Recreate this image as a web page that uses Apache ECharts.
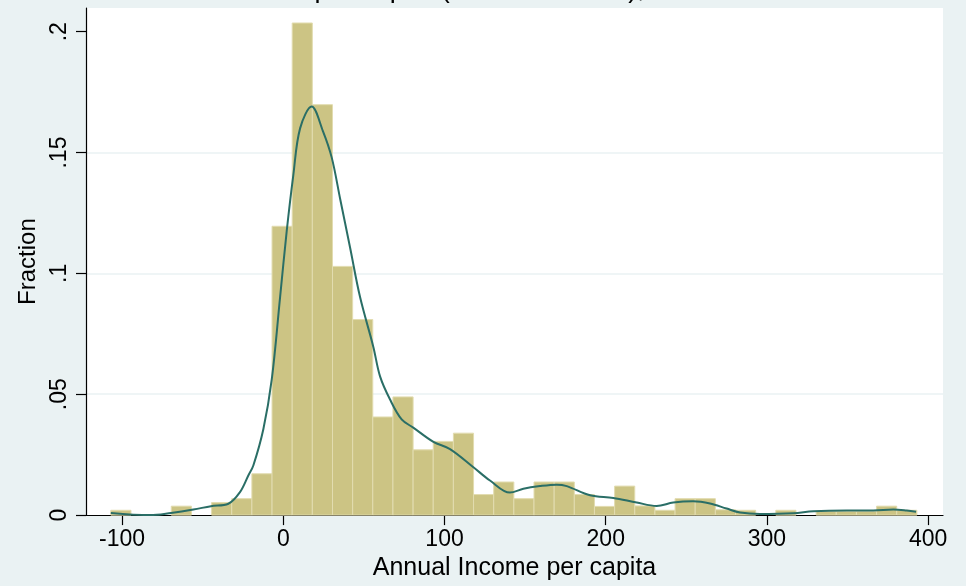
<!DOCTYPE html>
<html>
<head>
<meta charset="utf-8">
<script src="https://cdn.jsdelivr.net/npm/echarts@6/dist/echarts.min.js"></script>
<style>
  html, body { margin: 0; padding: 0; background: #EAF2F3; }
  #chart { width: 966px; height: 586px; }
</style>
</head>
<body>
<div id="chart"></div>
<script>
// Histogram bins: 40 equal-width bins of annual income per capita
const binStart = -107;
const binWidth = 12.5;
const fractions = [
  0.0020, 0.0000, 0.0000, 0.0037, 0.0000, 0.0052, 0.0068, 0.0171, 0.1195, 0.2036,
  0.1698, 0.1029, 0.0809, 0.0406, 0.0489, 0.0270, 0.0305, 0.0339, 0.0085, 0.0137,
  0.0068, 0.0137, 0.0137, 0.0085, 0.0036, 0.0120, 0.0038, 0.0020, 0.0068, 0.0068,
  0.0022, 0.0020, 0.0000, 0.0020, 0.0000, 0.0015, 0.0015, 0.0016, 0.0037, 0.0020
];

// Kernel density overlay
const kdeIncome = [
  -107, -82.7, -69.7, -55.8, -44.9, -34.1, -26.9, -21.7, -18.6, -12.4,
  -7.2, -2.0, 2.1, 6.2, 10.4, 17.6, 24.5, 30.0, 35.2, 41.4,
  47.6, 55.8, 60.0, 66.2, 73.4, 80.6, 93.1, 103.4, 117.9, 128.2,
  140.6, 148.9, 159.2, 169.6, 175.8, 190.3, 204.7, 219.2, 231.6, 241.9,
  254.3, 264.7, 275.0, 283.3, 295.7, 316.4, 328.8, 349.5, 366.0, 378.4,
  386.7, 392.5
];
const kdeDensity = [
  0.0009, 0.0000, 0.0009, 0.0023, 0.0037, 0.0047, 0.0095, 0.0164, 0.0205, 0.0355,
  0.0560, 0.0902, 0.1175, 0.1407, 0.1600, 0.1690, 0.1590, 0.1480, 0.1310, 0.1107,
  0.0902, 0.0697, 0.0574, 0.0478, 0.0396, 0.0362, 0.0303, 0.0273, 0.0198, 0.0143,
  0.0093, 0.0109, 0.0120, 0.0126, 0.0120, 0.0082, 0.0071, 0.0052, 0.0038, 0.0052,
  0.0057, 0.0048, 0.0027, 0.0011, 0.0005, 0.0008, 0.0016, 0.0019, 0.0019, 0.0023,
  0.0019, 0.0014
];

// Axis ticks
const xTicks = [-100, 0, 100, 200, 300, 400];
const yTicks = [0, 0.05, 0.1, 0.15, 0.2];
const yTickLabels = ['0', '.05', '.1', '.15', '.2'];

const FONT = "'Liberation Sans', Arial, Helvetica, sans-serif";

const binData = fractions.map((f, i) => [binStart + i * binWidth, binStart + (i + 1) * binWidth, f]);
const kdeData = kdeIncome.map((x, i) => [x, kdeDensity[i]]);

const chart = echarts.init(document.getElementById('chart'), null, { renderer: 'canvas' });

chart.setOption({
  backgroundColor: '#EAF2F3',
  animation: false,
  title: {
    text: 'Annual Income per capita (thousand RMB), 2010',
    left: 127,
    top: -24,
    padding: 0,
    textStyle: { fontFamily: FONT, fontSize: 27, fontWeight: 'normal', color: '#000' }
  },
  grid: {
    left: 86, top: 8, width: 857, height: 512,
    show: true, backgroundColor: '#ffffff', borderWidth: 0
  },
  xAxis: {
    type: 'value',
    min: -122.4,
    max: 409.2,
    name: 'Annual Income per capita',
    nameLocation: 'middle',
    nameGap: 39,
    nameTextStyle: { fontFamily: FONT, fontSize: 25, color: '#000' },
    axisLine: { onZero: false, lineStyle: { color: '#000', width: 1.2 } },
    axisTick: { show: true, length: 10, customValues: xTicks, lineStyle: { color: '#000', width: 1.2 } },
    axisLabel: {
      customValues: xTicks, margin: 13,
      fontFamily: FONT, fontSize: 23, color: '#000'
    },
    splitLine: { show: false }
  },
  yAxis: {
    type: 'value',
    min: 0,
    max: 0.2098,
    interval: 0.05,
    name: 'Fraction',
    nameLocation: 'middle',
    nameGap: 36,
    nameRotate: 90,
    nameTextStyle: { fontFamily: FONT, fontSize: 24, color: '#000' },
    axisLine: { show: true, onZero: false, lineStyle: { color: '#000', width: 1.2 } },
    axisTick: { show: true, length: 10, customValues: yTicks, lineStyle: { color: '#000', width: 1.2 } },
    axisLabel: {
      customValues: yTicks,
      rotate: 90,
      margin: 15,
      fontFamily: FONT, fontSize: 23, color: '#000',
      formatter: v => {
        const k = yTicks.findIndex(t => Math.abs(t - v) < 1e-9);
        return k >= 0 ? yTickLabels[k] : '';
      }
    },
    splitLine: {
      show: true, showMinLine: false, showMaxLine: false,
      lineStyle: { color: '#EAF2F3', width: 1.6 }
    }
  },
  series: [
    {
      name: 'Fraction',
      type: 'custom',
      z: 2,
      data: binData,
      encode: { x: [0, 1], y: 2 },
      renderItem: (params, api) => {
        const v = api.value(2);
        if (!v) return null;
        const topLeft = api.coord([api.value(0), v]);
        const bottomRight = api.coord([api.value(1), 0]);
        return {
          type: 'rect',
          shape: {
            x: topLeft[0], y: topLeft[1],
            width: bottomRight[0] - topLeft[0],
            height: bottomRight[1] - topLeft[1]
          },
          style: { fill: '#CCC484', stroke: '#E2DCB0', lineWidth: 1 }
        };
      }
    },
    {
      name: 'Density',
      type: 'line',
      z: 3,
      data: kdeData,
      smooth: 0.35,
      showSymbol: false,
      symbol: 'none',
      lineStyle: { color: '#2A6E66', width: 2 }
    }
  ]
});
</script>
</body>
</html>
